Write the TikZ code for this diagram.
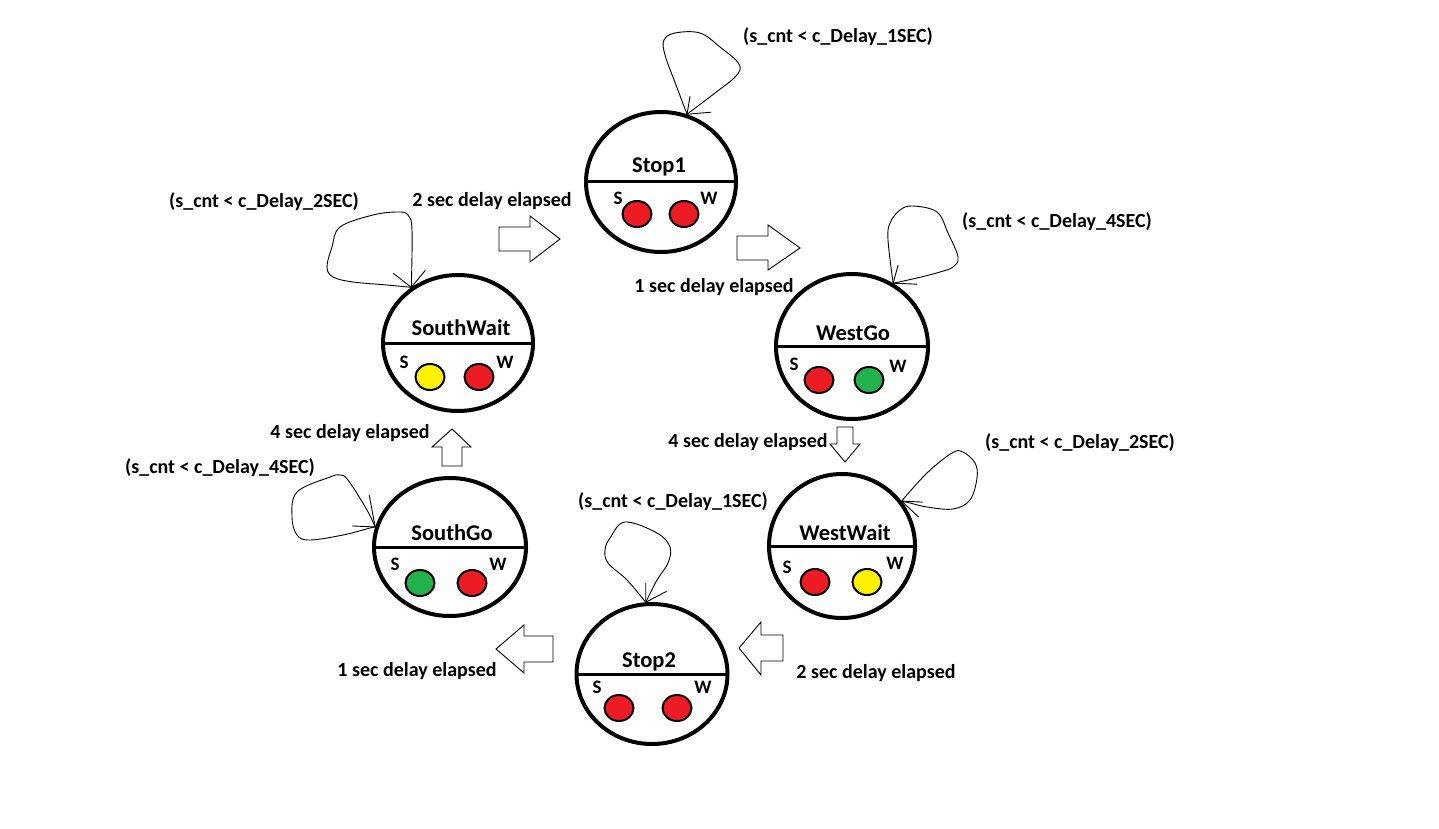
\documentclass[tikz,border=0pt]{standalone}
\usepackage{fontspec}
\setmainfont{Carlito}
\usetikzlibrary{shapes.geometric}

\definecolor{lampred}{HTML}{ED1C24}
\definecolor{lampgreen}{HTML}{22B14C}
\definecolor{lampyellow}{HTML}{FFF200}

\tikzset{
  state/.style={ellipse, draw, line width=4pt, inner sep=0pt},
  divider/.style={line width=3pt, shorten <=2pt, shorten >=2pt},
  title/.style={font=\fontsize{22.5}{24}\selectfont\bfseries, inner sep=0pt},
  dirlabel/.style={font=\fontsize{19}{20}\selectfont\bfseries, inner sep=0pt},
  lamp/.style={ellipse, draw, line width=2pt, minimum width=29pt, minimum height=26pt, inner sep=0pt},
  cond/.style={font=\fontsize{20}{22}\selectfont\bfseries, inner sep=0pt},
  evt/.style={font=\fontsize{20}{22}\selectfont\bfseries, inner sep=0pt},
  loopline/.style={line width=0.9pt, line join=round},
  blockarrow/.style={draw, fill=white, line width=0.9pt, line join=miter},
}

\begin{document}
\begin{tikzpicture}[x=1pt, y=-1pt]
\path[fill=white] (0,0) rectangle (1439,829);

% ---------------- states ----------------
% Stop1
\node[state, minimum width=150pt, minimum height=140pt] (stopA) at (661,182) {};
\draw[divider] (stopA.west) -- (stopA.east);
\node[title] (stopA-t) at (659,167) {Stop1};
\node[dirlabel] (stopA-sl) at (618,198) {S};
\node[dirlabel] (stopA-wl) at (709,198) {W};
\node[lamp, fill=lampred] (stopA-s) at (637,214) {};
\node[lamp, fill=lampred] (stopA-w) at (684,214) {};

% WestGo
\node[state, minimum width=152pt, minimum height=145pt] (wgo) at (852,346.5) {};
\draw[divider] (wgo.west) -- (wgo.east);
\node[title] (wgo-t) at (853,333) {WestGo};
\node[dirlabel] (wgo-sl) at (794,364) {S};
\node[dirlabel] (wgo-wl) at (898,366) {W};
\node[lamp, fill=lampred] (wgo-s) at (819,380) {};
\node[lamp, fill=lampgreen] (wgo-w) at (869,380) {};

% WestWait
\node[state, minimum width=146pt, minimum height=144pt] (wwait) at (842,546) {};
\draw[divider] (wwait.west) -- (wwait.east);
\node[title] (wwait-t) at (845,533) {WestWait};
\node[dirlabel] (wwait-sl) at (787,567) {S};
\node[dirlabel] (wwait-wl) at (895,563) {W};
\node[lamp, fill=lampred] (wwait-s) at (815,582) {};
\node[lamp, fill=lampyellow] (wwait-w) at (867,582) {};

% Stop2
\node[state, minimum width=151pt, minimum height=140pt] (stopB) at (652,674) {};
\draw[divider] (stopB.west) -- (stopB.east);
\node[title] (stopB-t) at (649,662) {Stop2};
\node[dirlabel] (stopB-sl) at (597,687) {S};
\node[dirlabel] (stopB-wl) at (703,687) {W};
\node[lamp, fill=lampred] (stopB-s) at (619,708) {};
\node[lamp, fill=lampred] (stopB-w) at (677,708) {};

% SouthGo
\node[state, minimum width=152pt, minimum height=138pt] (sgo) at (450,547) {};
\draw[divider] (sgo.west) -- (sgo.east);
\node[title] (sgo-t) at (452,533) {SouthGo};
\node[dirlabel] (sgo-sl) at (395,564) {S};
\node[dirlabel] (sgo-wl) at (498,564) {W};
\node[lamp, fill=lampgreen] (sgo-s) at (420,583) {};
\node[lamp, fill=lampred] (sgo-w) at (472,583) {};

% SouthWait
\node[state, minimum width=150pt, minimum height=136pt] (swait) at (458,343) {};
\draw[divider] (swait.west) -- (swait.east);
\node[title] (swait-t) at (461,328) {SouthWait};
\node[dirlabel] (swait-sl) at (404,362) {S};
\node[dirlabel] (swait-wl) at (505,362) {W};
\node[lamp, fill=lampyellow] (swait-s) at (430,377) {};
\node[lamp, fill=lampred] (swait-w) at (479,377) {};

% ---------------- self loops ----------------
\coordinate (tipA) at (stopA.69);
\draw[loopline] plot[smooth, tension=0.6] coordinates {(tipA) (676,85) (665,55) (664,40) (675,33) (700,33) (720,47) (739,64) (736,76) (715,93) (tipA)};
\draw[loopline] (tipA) -- ++(3,-18) (tipA) -- ++(24,-2);

\coordinate (tipB) at (wgo.57);
\draw[loopline] plot[smooth, tension=0.6] coordinates {(tipB) (888,240) (890,223) (900,210) (913,206) (937,212) (948,233) (958,257) (953,267) (940,272) (917,278) (tipB)};
\draw[loopline] (tipB) -- ++(5,-18) (tipB) -- ++(24,1);

\coordinate (tipC) at (wwait.37.6);
\draw[loopline] plot[smooth, tension=0.6] coordinates {(tipC) (927,473) (952,453) (963,452) (975,463) (977,478) (970,500) (953,509) (927,507) (910,503) (tipC)};
\draw[loopline] (tipC) -- ++(21,1) (tipC) -- ++(17,16);

\coordinate (tipD) at (stopB.95.4);
\draw[loopline] plot[smooth, tension=0.6] coordinates {(tipD) (627,580) (608,563) (605,550) (610,538) (625,522) (657,533) (670,547) (668,563) (657,580) (tipD)};
\draw[loopline] (tipD) -- ++(0,-19) (tipD) -- ++(21,-11);

\coordinate (tipE) at (sgo.165);
\draw[loopline] plot[smooth, tension=0.6] coordinates {(tipE) (367,510) (348,480) (340,475) (330,477) (297,492) (292,517) (297,535) (310,540) (343,535) (370,528) (tipE)};
\draw[loopline] (tipE) -- ++(-6,-32) (tipE) -- ++(-23,-1);

\coordinate (tipF) at (swait.130);
\draw[loopline] plot[smooth, tension=0.6] coordinates {(tipF) (412,230) (408,215) (398,212) (373,215) (340,227) (332,247) (327,267) (333,277) (353,282) (387,285) (tipF)};
\draw[loopline] (tipF) -- ++(-18,-14) (tipF) -- ++(14,-17);

% ---------------- transition arrows ----------------
\draw[blockarrow] (499,227) -- (530,227) -- (530,216) -- (560,239) -- (530,262) -- (530,251) -- (499,251) -- cycle;
\draw[blockarrow] (737,236) -- (768,236) -- (768,225) -- (800,248) -- (768,270) -- (768,260) -- (737,260) -- cycle;
\draw[blockarrow] (837,427) -- (853,427) -- (853,444) -- (860,444) -- (845,462) -- (830,444) -- (837,444) -- cycle;
\draw[blockarrow] (783,635) -- (761,635) -- (761,622) -- (739,648) -- (761,675) -- (761,661) -- (783,661) -- cycle;
\draw[blockarrow] (553,636) -- (524,636) -- (524,625) -- (496,649) -- (524,673) -- (524,662) -- (553,662) -- cycle;
\draw[blockarrow] (442,466) -- (442,447) -- (432,447) -- (452,429) -- (471,447) -- (462,447) -- (462,466) -- cycle;

% ---------------- labels ----------------
\node[cond] (c1) at (838,37) {(s\_cnt < c\_Delay\_1SEC)};
\node[cond] (c2) at (1057,222) {(s\_cnt < c\_Delay\_4SEC)};
\node[cond] (c3) at (1080,443) {(s\_cnt < c\_Delay\_2SEC)};
\node[cond] (c4) at (673,502) {(s\_cnt < c\_Delay\_1SEC)};
\node[cond] (c5) at (220,468) {(s\_cnt < c\_Delay\_4SEC)};
\node[cond] (c6) at (264,202) {(s\_cnt < c\_Delay\_2SEC)};

\node[evt] (e1) at (492,201) {2 sec delay elapsed};
\node[evt] (e2) at (714,287) {1 sec delay elapsed};
\node[evt] (e3) at (748,442) {4 sec delay elapsed};
\node[evt] (e4) at (876,673) {2 sec delay elapsed};
\node[evt] (e5) at (417,671) {1 sec delay elapsed};
\node[evt] (e6) at (350,433) {4 sec delay elapsed};
\end{tikzpicture}
\end{document}
